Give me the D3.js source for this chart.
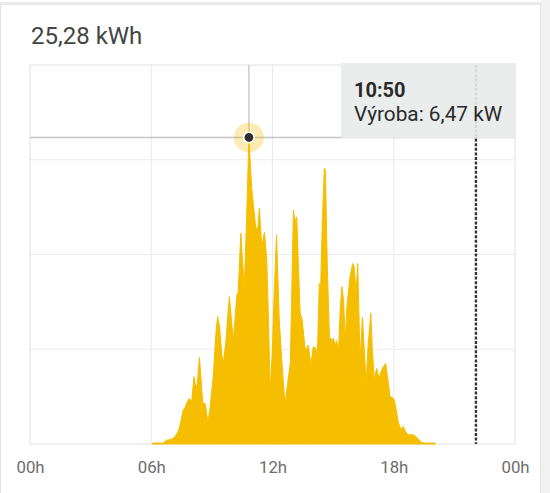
<!DOCTYPE html>
<html>
<head>
<meta charset="utf-8">
<script src="https://cdn.jsdelivr.net/npm/d3@7/dist/d3.min.js"></script>
<style>
  html, body { margin: 0; padding: 0; background: #ffffff; }
  svg { display: block; font-family: Roboto, "Noto Sans", sans-serif; }
</style>
</head>
<body>
<svg id="chart" width="550" height="493"></svg>
<script>
// ---- data ----
const title = "25,28 kWh";
const seriesName = "Výroba";
const unit = "kW";
const times = [
  "06:02","06:05","06:35","06:46","07:01","07:10","07:20","07:27","07:35","07:40",
  "07:47","07:53","08:00","08:07","08:13","08:17","08:23","08:28","08:33","08:40",
  "08:48","08:54","09:04","09:12","09:17","09:23","09:29","09:34","09:42","09:47",
  "09:52","09:59","10:04","10:14","10:18","10:26","10:36","10:43","10:50","10:58",
  "11:10","11:16","11:21","11:28","11:36","11:43","11:48","11:53","11:59","12:05",
  "12:12","12:20","12:27","12:37","12:47","12:53","13:02","13:07","13:12","13:17",
  "13:22","13:28","13:32","13:36","13:42","13:46","13:54","14:01","14:08","14:13",
  "14:19","14:23","14:28","14:34","14:37","14:43","14:49","14:55","15:01","15:06",
  "15:10","15:16","15:21","15:26","15:31","15:36","15:41","15:50","15:58","16:02",
  "16:08","16:13","16:20","16:27","16:33","16:38","16:44","16:52","16:56","17:02",
  "17:09","17:16","17:22","17:29","17:36","17:44","17:49","17:56","18:02","18:09",
  "18:13","18:22","18:28","18:35","18:43","18:53","19:03","19:13","19:23","19:33",
  "20:02","20:05"
];
const values = [
  0.00,0.02,0.02,0.08,0.10,0.15,0.26,0.44,0.72,0.76,
  0.89,0.96,0.89,1.42,1.14,1.29,1.83,1.35,0.86,0.86,
  0.47,0.72,1.42,2.34,2.69,2.47,1.91,1.70,2.19,2.69,
  3.11,2.55,2.19,3.14,3.20,4.45,3.29,4.73,6.47,5.42,
  4.58,4.52,4.98,4.16,4.47,3.88,2.62,1.14,1.88,3.19,
  4.41,2.62,1.82,0.84,1.39,1.71,4.94,4.69,4.79,3.74,
  2.77,2.62,2.36,2.05,2.00,2.09,1.67,2.05,2.03,1.84,
  3.39,3.31,4.73,5.82,5.78,3.67,2.26,2.19,2.23,2.05,
  2.19,1.98,2.83,3.32,3.04,2.17,2.90,3.52,3.81,3.76,
  3.19,3.81,1.77,2.68,1.92,1.27,2.09,2.76,2.05,1.35,
  1.60,1.39,1.52,1.63,1.70,1.28,1.00,0.98,0.93,0.65,
  0.47,0.30,0.37,0.26,0.19,0.20,0.17,0.10,0.03,0.02,
  0.02,0.00
];
const xTickValues = [0, 6, 12, 18, 24];
const xTickLabels = ["00h", "06h", "12h", "18h", "00h"];
const yGridValues = [2, 4, 6];
const yMax = 8;
const hoverTime = "10:50";
const hoverValue = 6.47;
const nowTime = "22:04";

// ---- helpers ----
const toHours = s => { const [h, m] = s.split(":").map(Number); return h + m / 60; };
const data = times.map((t, i) => ({ t: toHours(t), v: values[i] }));
const fmt = v => v.toFixed(2).replace(".", ",");

const svg = d3.select("#chart");
const W = 550, H = 493;
const plot = { left: 30, right: 515, top: 65, bottom: 444 };

const x = d3.scaleLinear().domain([0, 24]).range([plot.left, plot.right]);
const y = d3.scaleLinear().domain([0, yMax]).range([plot.bottom, plot.top]);

// card / page frame
svg.append("rect").attr("x", 0).attr("y", 0).attr("width", W).attr("height", H).attr("fill", "#ffffff");
svg.append("rect").attr("x", 0).attr("y", 2).attr("width", W).attr("height", 3).attr("fill", "#e9e9e9");
svg.append("rect").attr("x", 541).attr("y", 0).attr("width", 9).attr("height", H).attr("fill", "#f1f1f1");
svg.append("line").attr("x1", 0.5).attr("x2", 0.5).attr("y1", 5).attr("y2", H).attr("stroke", "#e3e3e3");
svg.append("line").attr("x1", 540.5).attr("x2", 540.5).attr("y1", 5).attr("y2", H).attr("stroke", "#e3e3e3");

// title
svg.append("text")
  .attr("x", 31).attr("y", 44)
  .attr("font-size", 24).attr("fill", "#444444")
  .text(title);

// grid
const grid = svg.append("g").attr("stroke", "#ebebeb").attr("stroke-width", 1.2);
grid.selectAll("line.h").data(yGridValues).join("line")
  .attr("x1", plot.left).attr("x2", plot.right)
  .attr("y1", d => y(d)).attr("y2", d => y(d));
grid.selectAll("line.v").data(xTickValues.slice(1, -1)).join("line")
  .attr("y1", plot.top).attr("y2", plot.bottom)
  .attr("x1", d => x(d)).attr("x2", d => x(d));
svg.append("rect")
  .attr("x", plot.left).attr("y", plot.top)
  .attr("width", plot.right - plot.left).attr("height", plot.bottom - plot.top)
  .attr("fill", "none").attr("stroke", "#e6e6e6").attr("stroke-width", 1.2);

// area
const area = d3.area().x(d => x(d.t)).y0(y(0)).y1(d => y(d.v)).curve(d3.curveLinear);
svg.append("path").datum(data)
  .attr("d", area)
  .attr("fill", "#f6be00")
  .attr("stroke", "#f6be00").attr("stroke-width", 1).attr("stroke-linejoin", "round");

// now line (dotted)
svg.append("line")
  .attr("x1", x(toHours(nowTime))).attr("x2", x(toHours(nowTime)))
  .attr("y1", plot.top).attr("y2", plot.bottom)
  .attr("stroke", "#333333").attr("stroke-width", 2.4).attr("stroke-dasharray", "3,1.6");

// crosshair
const hx = x(toHours(hoverTime)), hy = y(hoverValue);
svg.append("line").attr("x1", hx).attr("x2", hx).attr("y1", plot.top).attr("y2", hy)
  .attr("stroke", "#c4c4c4").attr("stroke-width", 1.3);
svg.append("line").attr("x1", plot.left).attr("x2", plot.right).attr("y1", hy).attr("y2", hy)
  .attr("stroke", "#c4c4c4").attr("stroke-width", 1.3);

// hover point
svg.append("circle").attr("cx", hx).attr("cy", hy).attr("r", 15)
  .attr("fill", "#f6be00").attr("fill-opacity", 0.3);
svg.append("circle").attr("cx", hx).attr("cy", hy).attr("r", 5.2)
  .attr("fill", "#2d2d2d").attr("stroke", "#ffffff").attr("stroke-width", 1.6);

// tooltip
const tip = svg.append("g");
tip.append("rect")
  .attr("x", 341).attr("y", 63).attr("width", 175).attr("height", 75)
  .attr("fill", "#e9ebeb").attr("fill-opacity", 0.9);
tip.append("text").attr("x", 354).attr("y", 97)
  .attr("font-size", 20).attr("font-weight", 700).attr("fill", "#2a2a2a")
  .text(hoverTime);
tip.append("text").attr("x", 354).attr("y", 121)
  .attr("font-size", 20.8).attr("fill", "#2a2a2a")
  .text(`${seriesName}: ${fmt(hoverValue)} ${unit}`);

// x axis
const xAxis = d3.axisBottom(x)
  .tickValues(xTickValues)
  .tickFormat((d, i) => xTickLabels[i])
  .tickSize(0).tickPadding(0);
const ax = svg.append("g").attr("transform", `translate(0, 0)`).call(xAxis);
ax.select(".domain").remove();
ax.selectAll("text")
  .attr("y", 473).attr("dy", null)
  .attr("font-size", 16.8).attr("font-family", "Roboto, sans-serif")
  .attr("fill", "#6e6e6e");
</script>
</body>
</html>
